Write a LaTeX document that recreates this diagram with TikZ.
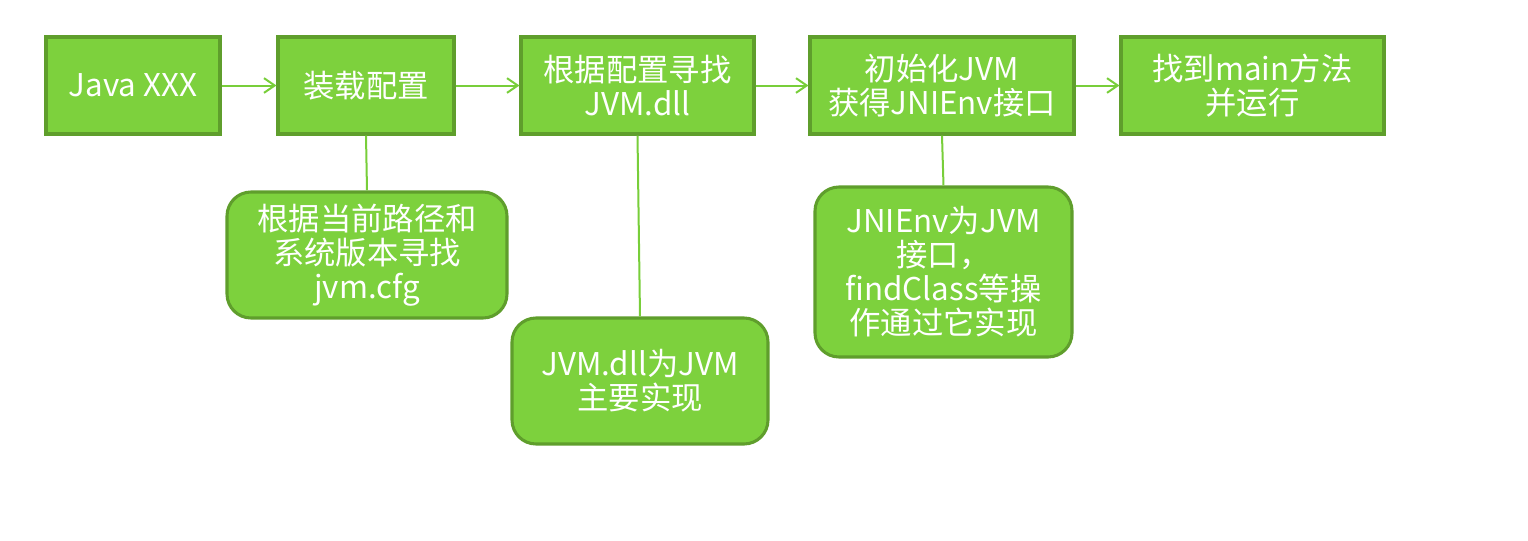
\documentclass[tikz,border=0pt]{standalone}
\usepackage{fontspec}
\setmainfont{Noto Sans CJK SC}
\usepackage{tikz}
\usetikzlibrary{
  arrows.meta,
  positioning
}
\definecolor{leaf}{HTML}{7DD13D}
\definecolor{darkleaf}{HTML}{5F9E2C}
\definecolor{linkgreen}{HTML}{78CE3A}
\tikzset{
  stepbox/.style={
    draw=darkleaf,
    line width=2.3pt,
    fill=leaf,
    text=white,
    align=center,
    inner sep=0pt,
    minimum height=72.75pt,
    font=\fontsize{23.5}{25.5}\selectfont
  },
  notebox/.style={stepbox, rounded corners=18pt},
  arrow/.style={-{Straight Barb[length=8pt, width=11pt]}, line width=1.5pt, draw=linkgreen},
  link/.style={line width=1.5pt, draw=linkgreen}
}

\begin{document}
\begin{tikzpicture}[x=0.75pt, y=-0.75pt]
  \useasboundingbox (0,0) rectangle (1528,540);

  \node[stepbox, minimum width=130.5pt] (java) at (133,85.5) {Java XXX};
  \node[stepbox, minimum width=132pt] (load) at (366,85.5) {装载配置};
  \node[stepbox, minimum width=174.75pt] (find) at (637.5,85.5)
    {根据配置寻找\\JVM.dll};
  \node[stepbox, minimum width=198pt] (init) at (942,85.5)
    {初始化JVM\\获得JNIEnv接口};
  \node[stepbox, minimum width=197.25pt] (run) at (1252.5,85.5)
    {找到main方法\\并运行};

  \node[notebox, minimum width=210pt, minimum height=94.5pt] (cfg) at (367,255)
    {根据当前路径和\\系统版本寻找\\jvm.cfg};
  \node[notebox, minimum width=192pt, minimum height=94.5pt] (dll) at (640,381)
    {JVM.dll为JVM\\主要实现};
  \node[notebox, minimum width=192.75pt, minimum height=127.5pt] (env) at (943.5,272)
    {JNIEnv为JVM\\接口，\\findClass等操\\作通过它实现};

  \draw[arrow] (java) -- (load);
  \draw[arrow] (load) -- (find);
  \draw[arrow] (find) -- (init);
  \draw[arrow] (init) -- (run);
  \draw[link] (load.south) -- (cfg.north);
  \draw[link] (find.south) -- (dll.north);
  \draw[link] (init.south) -- (env.north);
\end{tikzpicture}
\end{document}
